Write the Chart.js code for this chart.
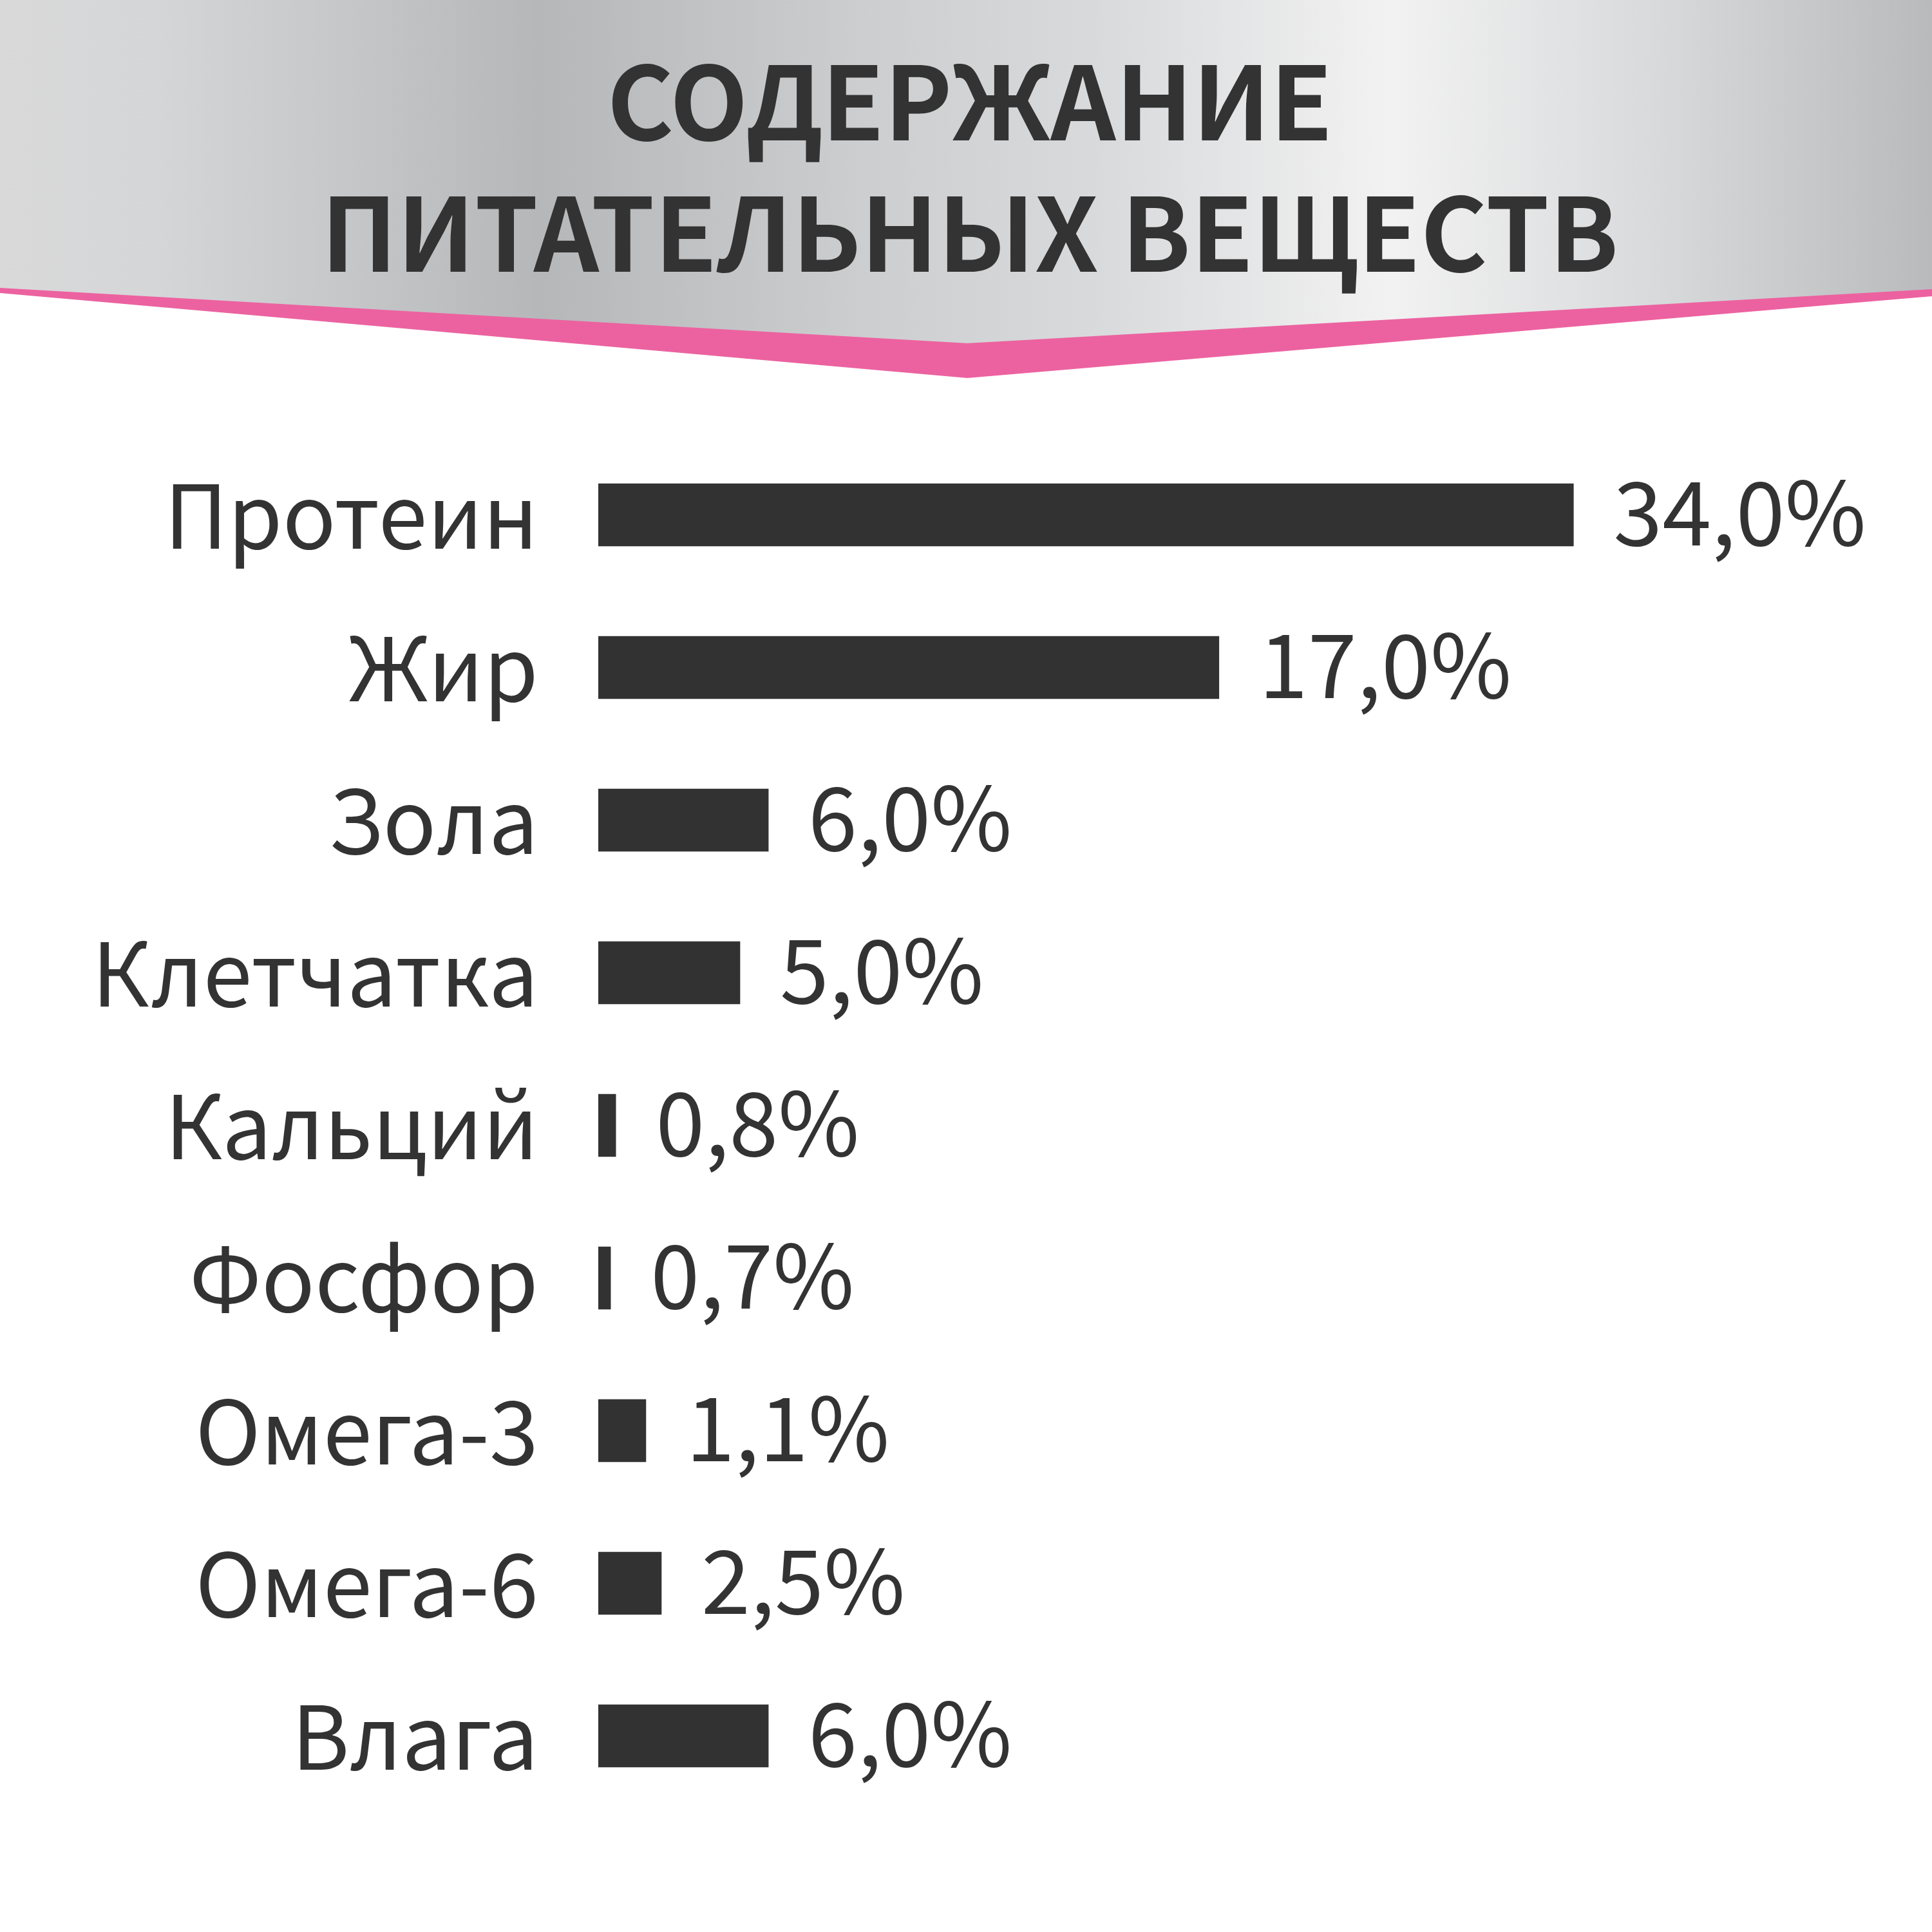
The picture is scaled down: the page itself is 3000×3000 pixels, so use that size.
<!DOCTYPE html>
<html lang="ru">
<head>
<meta charset="utf-8">
<title>Содержание питательных веществ</title>
<script src="https://cdn.jsdelivr.net/npm/chart.js@4.4.1/dist/chart.umd.min.js"></script>
<style>
  html, body { margin: 0; padding: 0; background: #fff; }
  canvas { display: block; }
</style>
</head>
<body>
<canvas id="grafico" width="3000" height="3000"></canvas>
<script>
const categorias = ['Протеин', 'Жир', 'Зола', 'Клетчатка', 'Кальций', 'Фосфор', 'Омега-3', 'Омега-6', 'Влага'];
// values printed next to the bars
const contenido = [34.0, 17.0, 6.0, 5.0, 0.8, 0.7, 1.1, 2.5, 6.0];
// bar lengths as drawn in the picture (the artwork does not keep them proportional)
const longitudBarra = [34.0, 21.64, 5.93, 4.94, 0.61, 0.43, 1.66, 2.2, 5.93];
const titulo = ['СОДЕРЖАНИЕ', 'ПИТАТЕЛЬНЫХ ВЕЩЕСТВ'];

const TEXTO = '#333333';
const BARRA = '#323232';
const ROSA = '#ec62a0';
const FUENTE = "'Noto Sans CJK SC', 'Noto Sans', sans-serif";

const etiquetas = contenido.map(v => v.toFixed(1).replace('.', ',') + '%');

// grey banner with pink chevron under the title
const fondoCabecera = {
  id: 'fondoCabecera',
  beforeDraw(chart) {
    const ctx = chart.ctx;
    const w = chart.width;
    ctx.save();
    ctx.fillStyle = '#ffffff';
    ctx.fillRect(0, 0, w, chart.height);

    ctx.fillStyle = ROSA;
    ctx.beginPath();
    ctx.moveTo(0, 0);
    ctx.lineTo(w, 0);
    ctx.lineTo(w, 460);
    ctx.lineTo(1502, 587);
    ctx.lineTo(0, 455);
    ctx.closePath();
    ctx.fill();

    const g = ctx.createLinearGradient(0, 0, w, 0);
    g.addColorStop(0, '#d9d9d9');
    g.addColorStop(0.08, '#d5d6d8');
    g.addColorStop(0.28, '#b6b7b9');
    g.addColorStop(0.45, '#cdcecf');
    g.addColorStop(0.57, '#d9dadc');
    g.addColorStop(0.72, '#f2f2f2');
    g.addColorStop(0.86, '#d8d9db');
    g.addColorStop(1, '#b9babc');
    ctx.fillStyle = g;
    ctx.beginPath();
    ctx.moveTo(0, 0);
    ctx.lineTo(w, 0);
    ctx.lineTo(w, 449);
    ctx.lineTo(1502, 533);
    ctx.lineTo(0, 447);
    ctx.closePath();
    ctx.fill();
    ctx.restore();
  }
};

// percentage text after each bar
const valoresBarras = {
  id: 'valoresBarras',
  afterDatasetsDraw(chart) {
    const ctx = chart.ctx;
    const meta = chart.getDatasetMeta(0);
    ctx.save();
    ctx.fillStyle = TEXTO;
    ctx.font = '400 137px ' + FUENTE;
    ctx.textAlign = 'left';
    ctx.textBaseline = 'middle';
    meta.data.forEach((bar, i) => {
      ctx.fillText(etiquetas[i], bar.x + 62, bar.y - 5);
    });
    ctx.restore();
  }
};

new Chart(document.getElementById('grafico'), {
  type: 'bar',
  data: {
    labels: categorias,
    datasets: [{
      data: longitudBarra,
      backgroundColor: BARRA,
      borderWidth: 0,
      barThickness: 97
    }]
  },
  plugins: [fondoCabecera, valoresBarras],
  options: {
    indexAxis: 'y',
    responsive: false,
    devicePixelRatio: 1,
    animation: false,
    layout: { padding: { left: 12, right: 0, top: 0, bottom: 186 } },
    plugins: {
      legend: { display: false },
      tooltip: { enabled: false },
      title: {
        display: true,
        text: titulo,
        color: TEXTO,
        font: { family: FUENTE, size: 158, weight: 'bold', lineHeight: 1.291 },
        padding: { top: 56, bottom: 217 }
      }
    },
    scales: {
      x: {
        display: false,
        min: 0,
        max: 46.5
      },
      y: {
        grid: { display: false, drawTicks: false },
        border: { display: false },
        ticks: {
          color: TEXTO,
          padding: 93,
          font: { family: FUENTE, size: 137, weight: 400 }
        },
        afterFit(scale) { scale.width = 917; }
      }
    }
  }
});
</script>
</body>
</html>
